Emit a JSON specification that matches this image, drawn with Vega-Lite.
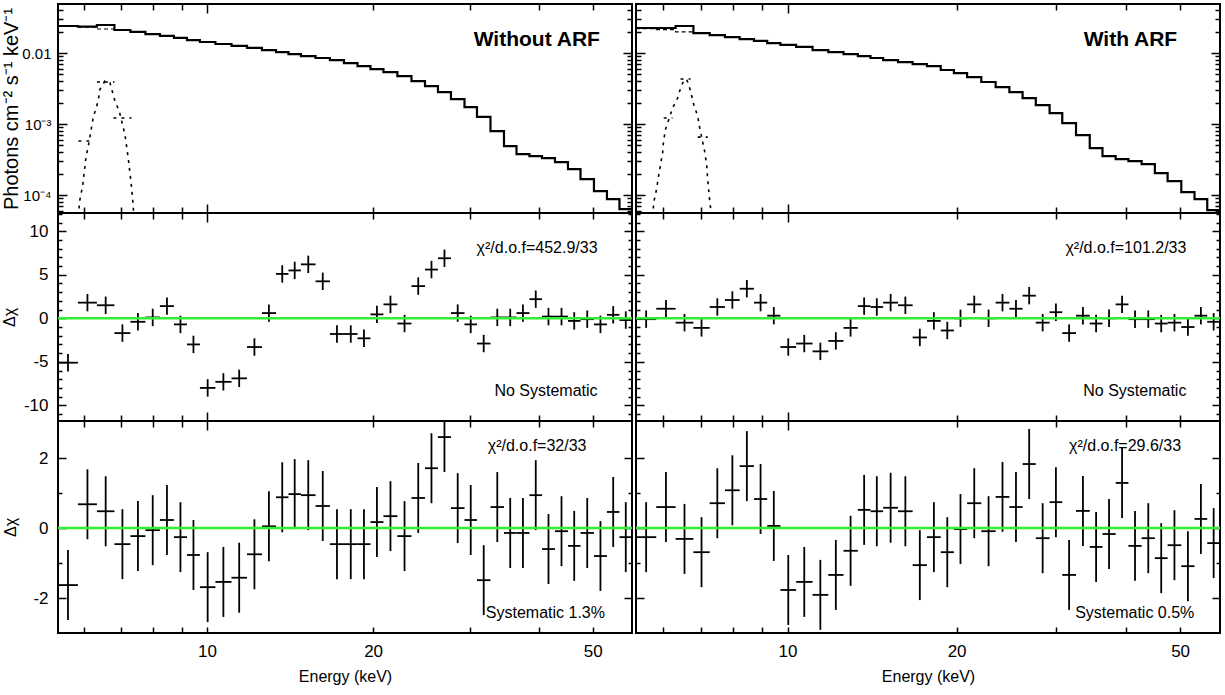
{
"$schema": "https://vega.github.io/schema/vega-lite/v6.json",
"background": "white",
"padding": {"left": 0, "top": 2, "right": 2, "bottom": 2},
"config": {
 "view": {"stroke": "black", "strokeWidth": 2},
 "axis": {"grid": false, "domain": false, "tickColor": "black", "tickWidth": 1.5, "labelColor": "black", "titleColor": "black", "labelFont": "Liberation Sans", "titleFont": "Liberation Sans", "labelFontSize": 17, "titleFontSize": 16, "titleFontWeight": "normal"},
 "text": {"font": "Liberation Sans", "fontSize": 16, "color": "black"}
},
"datasets": {
 "bins": [
  {"lo":5.373,"hi":5.838,"c":5.601,"rL1":-5.1,"rR1":-0.1,"rL2":-1.63,"rR2":-0.26,"err":1},
  {"lo":5.838,"hi":6.320,"c":6.075,"rL1":1.8,"rR1":1.1,"rL2":0.68,"rR2":0.6,"err":1},
  {"lo":6.320,"hi":6.799,"c":6.555,"rL1":1.5,"rR1":-0.5,"rL2":0.48,"rR2":-0.31,"err":1},
  {"lo":6.799,"hi":7.267,"c":7.029,"rL1":-1.7,"rR1":-1.1,"rL2":-0.46,"rR2":-0.69,"err":1},
  {"lo":7.267,"hi":7.737,"c":7.499,"rL1":-0.4,"rR1":1.3,"rL2":-0.23,"rR2":0.71,"err":1},
  {"lo":7.737,"hi":8.218,"c":7.976,"rL1":0.1,"rR1":2.1,"rL2":-0.06,"rR2":1.08,"err":1},
  {"lo":8.218,"hi":8.714,"c":8.464,"rL1":1.4,"rR1":3.4,"rL2":0.23,"rR2":1.77,"err":1},
  {"lo":8.714,"hi":9.201,"c":8.954,"rL1":-0.7,"rR1":1.8,"rL2":-0.26,"rR2":0.83,"err":1},
  {"lo":9.201,"hi":9.712,"c":9.453,"rL1":-3.0,"rR1":0.3,"rL2":-0.77,"rR2":0.06,"err":1},
  {"lo":9.712,"hi":10.36,"c":10.03,"rL1":-8.0,"rR1":-3.3,"rL2":-1.69,"rR2":-1.77,"err":1},
  {"lo":10.36,"hi":11.08,"c":10.71,"rL1":-7.3,"rR1":-2.9,"rL2":-1.54,"rR2":-1.54,"err":1},
  {"lo":11.08,"hi":11.82,"c":11.44,"rL1":-6.9,"rR1":-3.8,"rL2":-1.42,"rR2":-1.91,"err":1},
  {"lo":11.82,"hi":12.58,"c":12.19,"rL1":-3.3,"rR1":-2.6,"rL2":-0.75,"rR2":-1.34,"err":1},
  {"lo":12.58,"hi":13.34,"c":12.95,"rL1":0.6,"rR1":-1.1,"rL2":0.05,"rR2":-0.65,"err":1},
  {"lo":13.34,"hi":14.05,"c":13.69,"rL1":5.1,"rR1":1.4,"rL2":0.88,"rR2":0.52,"err":1},
  {"lo":14.05,"hi":14.80,"c":14.42,"rL1":5.5,"rR1":1.3,"rL2":0.97,"rR2":0.48,"err":1},
  {"lo":14.80,"hi":15.73,"c":15.26,"rL1":6.2,"rR1":1.8,"rL2":0.94,"rR2":0.58,"err":1},
  {"lo":15.73,"hi":16.70,"c":16.21,"rL1":4.25,"rR1":1.5,"rL2":0.63,"rR2":0.48,"err":1},
  {"lo":16.70,"hi":17.71,"c":17.20,"rL1":-1.8,"rR1":-2.2,"rL2":-0.46,"rR2":-1.06,"err":1},
  {"lo":17.71,"hi":18.74,"c":18.22,"rL1":-1.8,"rR1":-0.3,"rL2":-0.46,"rR2":-0.26,"err":1},
  {"lo":18.74,"hi":19.78,"c":19.25,"rL1":-2.3,"rR1":-1.4,"rL2":-0.46,"rR2":-0.69,"err":1},
  {"lo":19.78,"hi":20.88,"c":20.32,"rL1":0.45,"rR1":0.0,"rL2":0.17,"rR2":-0.03,"err":1},
  {"lo":20.88,"hi":22.13,"c":21.50,"rL1":1.6,"rR1":1.6,"rL2":0.34,"rR2":0.71,"err":1},
  {"lo":22.13,"hi":23.47,"c":22.80,"rL1":-0.6,"rR1":0.0,"rL2":-0.23,"rR2":-0.09,"err":1},
  {"lo":23.47,"hi":24.83,"c":24.14,"rL1":3.7,"rR1":1.8,"rL2":0.86,"rR2":0.89,"err":1},
  {"lo":24.83,"hi":26.21,"c":25.51,"rL1":5.6,"rR1":1.1,"rL2":1.71,"rR2":0.6,"err":1},
  {"lo":26.21,"hi":27.67,"c":26.93,"rL1":6.9,"rR1":2.6,"rL2":2.6,"rR2":1.83,"err":1},
  {"lo":27.67,"hi":29.28,"c":28.46,"rL1":0.6,"rR1":-0.5,"rL2":0.57,"rR2":-0.29,"err":1},
  {"lo":29.28,"hi":30.84,"c":30.05,"rL1":-0.7,"rR1":0.7,"rL2":0.23,"rR2":0.74,"err":1},
  {"lo":30.84,"hi":32.63,"c":31.72,"rL1":-2.9,"rR1":-1.7,"rL2":-1.49,"rR2":-1.34,"err":1},
  {"lo":32.63,"hi":34.52,"c":33.57,"rL1":0.1,"rR1":0.3,"rL2":0.6,"rR2":0.49,"err":1},
  {"lo":34.52,"hi":36.37,"c":35.43,"rL1":0.1,"rR1":-0.6,"rL2":-0.14,"rR2":-0.54,"err":1},
  {"lo":36.37,"hi":38.39,"c":37.36,"rL1":0.6,"rR1":0.0,"rL2":-0.14,"rR2":-0.17,"err":1},
  {"lo":38.39,"hi":40.45,"c":39.41,"rL1":2.2,"rR1":1.6,"rL2":0.94,"rR2":1.29,"err":1},
  {"lo":40.45,"hi":42.70,"c":41.56,"rL1":0.2,"rR1":-0.1,"rL2":-0.6,"rR2":-0.51,"err":1},
  {"lo":42.70,"hi":45.08,"c":43.88,"rL1":0.2,"rR1":-0.1,"rL2":-0.09,"rR2":-0.29,"err":1},
  {"lo":45.08,"hi":47.50,"c":46.27,"rL1":-0.3,"rR1":-0.6,"rL2":-0.51,"rR2":-0.86,"err":1},
  {"lo":47.50,"hi":50.24,"c":48.85,"rL1":-0.1,"rR1":-0.5,"rL2":-0.14,"rR2":-0.49,"err":1},
  {"lo":50.24,"hi":53.04,"c":51.62,"rL1":-0.7,"rR1":-1.0,"rL2":-0.8,"rR2":-1.09,"err":1},
  {"lo":53.04,"hi":55.88,"c":54.44,"rL1":0.4,"rR1":0.3,"rL2":0.46,"rR2":0.26,"err":1},
  {"lo":55.88,"hi":58.88,"c":57.37,"rL1":-0.2,"rR1":-0.4,"rL2":-0.26,"rR2":-0.43,"err":1}
 ],
 "steps": [
  {"e":5.373,"fL":0.0240,"fR":0.0225},{"e":5.838,"fL":0.0236,"fR":0.0225},{"e":6.320,"fL":0.0248,"fR":0.0240},
  {"e":6.799,"fL":0.0211,"fR":0.0191},{"e":7.267,"fL":0.0198,"fR":0.0179},{"e":7.737,"fL":0.0185,"fR":0.0168},
  {"e":8.218,"fL":0.0174,"fR":0.0157},{"e":8.714,"fL":0.0163,"fR":0.0148},{"e":9.201,"fL":0.0152,"fR":0.0138},
  {"e":9.712,"fL":0.0143,"fR":0.0130},{"e":10.36,"fL":0.0134,"fR":0.0122},{"e":11.08,"fL":0.0126,"fR":0.0110},
  {"e":11.82,"fL":0.0118,"fR":0.0103},{"e":12.58,"fL":0.0110,"fR":0.00968},{"e":13.34,"fL":0.0103,"fR":0.00907},
  {"e":14.05,"fL":0.00968,"fR":0.00851},{"e":14.80,"fL":0.00907,"fR":0.00797},{"e":15.73,"fL":0.00851,"fR":0.00747},
  {"e":16.70,"fL":0.00797,"fR":0.00700},{"e":17.71,"fL":0.00723,"fR":0.00656},{"e":18.74,"fL":0.00656,"fR":0.00577},
  {"e":19.78,"fL":0.00595,"fR":0.00523},{"e":20.88,"fL":0.00540,"fR":0.00459},{"e":22.13,"fL":0.00474,"fR":0.00391},
  {"e":23.47,"fL":0.00403,"fR":0.00332},{"e":24.83,"fL":0.00343,"fR":0.00282},{"e":26.21,"fL":0.00282,"fR":0.00232},
  {"e":27.67,"fL":0.00225,"fR":0.00185},{"e":29.28,"fL":0.00173,"fR":0.00143},{"e":30.84,"fL":0.00126,"fR":0.00103},
  {"e":32.63,"fL":0.000796,"fR":0.000700},{"e":34.52,"fL":0.000490,"fR":0.000459},{"e":36.37,"fL":0.000378,"fR":0.000354},
  {"e":38.39,"fL":0.000354,"fR":0.000321},{"e":40.45,"fL":0.000332,"fR":0.000301},{"e":42.70,"fL":0.000292,"fR":0.000273},
  {"e":45.08,"fL":0.000232,"fR":0.000204},{"e":47.50,"fL":0.000168,"fR":0.000157},{"e":50.24,"fL":0.000114,"fR":0.000110},
  {"e":53.04,"fL":0.0000879,"fR":0.0000879},{"e":55.88,"fL":0.0000635,"fR":0.0000615},{"e":58.88,"fL":0.0000635,"fR":0.0000615}
 ],
 "cont": [
  {"e":5.373,"cL":0.0240,"cR":0.0221},{"e":5.838,"cL":0.0232,"cR":0.0214},{"e":6.320,"cL":0.0218,"cR":0.0198},
  {"e":6.799,"cL":0.0211,"cR":0.0191},{"e":7.267,"cL":0.0198,"cR":0.0179}
 ],
 "gaussL": [
  {"e":5.86,"f":0.00005},{"e":5.871,"f":0.000078},{"e":5.954,"f":0.000134},{"e":6.037,"f":0.000335},{"e":6.120,"f":0.000577},
  {"e":6.223,"f":0.00123},{"e":6.353,"f":0.00211},{"e":6.400,"f":0.00308},{"e":6.535,"f":0.00404},{"e":6.673,"f":0.00382},
  {"e":6.813,"f":0.00211},{"e":6.937,"f":0.00152},{"e":7.103,"f":0.000716},{"e":7.201,"f":0.000335},{"e":7.304,"f":0.000127},
  {"e":7.353,"f":0.00007},{"e":7.37,"f":0.00005}
 ],
 "gaussR": [
  {"e":5.76,"f":0.00005},{"e":5.775,"f":0.0000771},{"e":5.846,"f":0.000122},{"e":5.894,"f":0.000185},{"e":5.943,"f":0.000273},
  {"e":5.992,"f":0.000391},{"e":6.016,"f":0.000577},{"e":6.066,"f":0.000851},{"e":6.242,"f":0.00168},{"e":6.372,"f":0.00232},
  {"e":6.451,"f":0.00321},{"e":6.504,"f":0.00378},{"e":6.612,"f":0.0043},{"e":6.721,"f":0.00292},{"e":6.804,"f":0.00191},
  {"e":6.917,"f":0.0013},{"e":6.973,"f":0.000908},{"e":7.117,"f":0.000417},{"e":7.177,"f":0.000273},{"e":7.206,"f":0.000173},
  {"e":7.264,"f":0.0000879},{"e":7.295,"f":0.0000656},{"e":7.31,"f":0.00005}
 ],
 "capsL": [{"lo":5.85,"hi":6.12,"f":0.000577},{"lo":6.32,"hi":6.80,"f":0.00391},{"lo":6.77,"hi":7.30,"f":0.00122}],
 "capsR": [{"lo":6.02,"hi":6.24,"f":0.00122},{"lo":6.45,"hi":6.72,"f":0.0043},{"lo":6.92,"hi":7.21,"f":0.000656}]
},
"columns": 2,
"spacing": {"row": 0, "column": 4},
"bounds": "flush",
"concat": [
 {
  "width": 574, "height": 209,
  "layer": [
   {"data": {"name": "cont"}, "mark": {"type": "line", "interpolate": "step-after", "color": "black", "strokeWidth": 1.2, "strokeDash": [4, 3], "clip": true},
    "encoding": {"x": {"field": "e", "type": "quantitative", "scale": {"type": "log", "domain": [5.373, 58.88], "nice": false}, "axis": null},
                 "y": {"field": "cL", "type": "quantitative", "scale": {"type": "log", "domain": [0.000056, 0.049], "nice": false}, "axis": null}}},
   {"data": {"name": "gaussL"}, "mark": {"type": "line", "color": "black", "strokeWidth": 1.6, "strokeDash": [3, 5], "clip": true},
    "encoding": {"x": {"field": "e", "type": "quantitative", "axis": null}, "y": {"field": "f", "type": "quantitative", "axis": null}}},
   {"data": {"name": "capsL"}, "mark": {"type": "rule", "color": "black", "strokeWidth": 1.6, "strokeDash": [3, 5]},
    "encoding": {"x": {"field": "lo", "type": "quantitative", "axis": null}, "x2": {"field": "hi"}, "y": {"field": "f", "type": "quantitative", "axis": null}}},
   {"data": {"name": "steps"}, "mark": {"type": "line", "interpolate": "step-after", "color": "black", "strokeWidth": 2.2, "clip": true},
    "encoding": {"x": {"field": "e", "type": "quantitative", "axis": {"orient": "bottom", "values": [6,7,8,9,10,20,30,40,50], "labels": false, "title": null, "tickSize": {"condition": {"test": "datum.value == 10", "value": -9}, "value": -6}}},
                 "y": {"field": "fL", "type": "quantitative", "axis": {"orient": "left", "values": [0.00006,0.00007,0.00008,0.00009,0.0001,0.0002,0.0003,0.0004,0.0005,0.0006,0.0007,0.0008,0.0009,0.001,0.002,0.003,0.004,0.005,0.006,0.007,0.008,0.009,0.01,0.02,0.03,0.04],
                   "labelExpr": "datum.value == 0.01 ? '0.01' : datum.value == 0.001 ? '10⁻³' : datum.value == 0.0001 ? '10⁻⁴' : ''",
                   "tickSize": {"condition": {"test": "datum.value == 0.01 || datum.value == 0.001 || datum.value == 0.0001", "value": -9}, "value": -5},
                   "labelPadding": 16, "labelFont": "Liberation Sans", "labelFontSize": 15,
                   "title": "Photons cm⁻² s⁻¹ keV⁻¹", "titleFont": "Liberation Sans", "titleFontSize": 20, "titlePadding": 0}}}},
   {"data": {"name": "steps"}, "mark": {"type": "point", "opacity": 0},
    "encoding": {"x": {"field": "e", "type": "quantitative", "axis": {"orient": "top", "values": [6,7,8,9,10,20,30,40,50], "labels": false, "title": null, "tickSize": {"condition": {"test": "datum.value == 10", "value": -9}, "value": -6}}},
                 "y": {"field": "fL", "type": "quantitative", "axis": {"orient": "right", "values": [0.00006,0.00007,0.00008,0.00009,0.0001,0.0002,0.0003,0.0004,0.0005,0.0006,0.0007,0.0008,0.0009,0.001,0.002,0.003,0.004,0.005,0.006,0.007,0.008,0.009,0.01,0.02,0.03,0.04], "labels": false, "title": null,
                   "tickSize": {"condition": {"test": "datum.value == 0.01 || datum.value == 0.001 || datum.value == 0.0001", "value": -9}, "value": -5}}}}},
   {"data": {"values": [{"t": "Without ARF"}]}, "mark": {"type": "text", "align": "right", "baseline": "alphabetic", "font": "Liberation Sans", "fontWeight": "bold", "fontSize": 21},
    "encoding": {"x": {"datum": 51.5, "type": "quantitative", "axis": null}, "y": {"datum": 0.01256, "type": "quantitative", "axis": null}, "text": {"field": "t"}}}
  ],
  "resolve": {"axis": {"x": "independent", "y": "independent"}}
 },
 {
  "width": 584, "height": 209,
  "layer": [
   {"data": {"name": "cont"}, "mark": {"type": "line", "interpolate": "step-after", "color": "black", "strokeWidth": 1.2, "strokeDash": [4, 3], "clip": true},
    "encoding": {"x": {"field": "e", "type": "quantitative", "scale": {"type": "log", "domain": [5.373, 58.88], "nice": false}, "axis": null},
                 "y": {"field": "cR", "type": "quantitative", "scale": {"type": "log", "domain": [0.000056, 0.049], "nice": false}, "axis": null}}},
   {"data": {"name": "gaussR"}, "mark": {"type": "line", "color": "black", "strokeWidth": 1.6, "strokeDash": [3, 5], "clip": true},
    "encoding": {"x": {"field": "e", "type": "quantitative", "axis": null}, "y": {"field": "f", "type": "quantitative", "axis": null}}},
   {"data": {"name": "capsR"}, "mark": {"type": "rule", "color": "black", "strokeWidth": 1.6, "strokeDash": [3, 5]},
    "encoding": {"x": {"field": "lo", "type": "quantitative", "axis": null}, "x2": {"field": "hi"}, "y": {"field": "f", "type": "quantitative", "axis": null}}},
   {"data": {"name": "steps"}, "mark": {"type": "line", "interpolate": "step-after", "color": "black", "strokeWidth": 2.2, "clip": true},
    "encoding": {"x": {"field": "e", "type": "quantitative", "axis": {"orient": "bottom", "values": [6,7,8,9,10,20,30,40,50], "labels": false, "title": null, "tickSize": {"condition": {"test": "datum.value == 10", "value": -9}, "value": -6}}},
                 "y": {"field": "fR", "type": "quantitative", "axis": {"orient": "left", "values": [0.00006,0.00007,0.00008,0.00009,0.0001,0.0002,0.0003,0.0004,0.0005,0.0006,0.0007,0.0008,0.0009,0.001,0.002,0.003,0.004,0.005,0.006,0.007,0.008,0.009,0.01,0.02,0.03,0.04], "labels": false, "title": null,
                   "tickSize": {"condition": {"test": "datum.value == 0.01 || datum.value == 0.001 || datum.value == 0.0001", "value": -9}, "value": -5}}}}},
   {"data": {"name": "steps"}, "mark": {"type": "point", "opacity": 0},
    "encoding": {"x": {"field": "e", "type": "quantitative", "axis": {"orient": "top", "values": [6,7,8,9,10,20,30,40,50], "labels": false, "title": null, "tickSize": {"condition": {"test": "datum.value == 10", "value": -9}, "value": -6}}},
                 "y": {"field": "fR", "type": "quantitative", "axis": {"orient": "right", "values": [0.00006,0.00007,0.00008,0.00009,0.0001,0.0002,0.0003,0.0004,0.0005,0.0006,0.0007,0.0008,0.0009,0.001,0.002,0.003,0.004,0.005,0.006,0.007,0.008,0.009,0.01,0.02,0.03,0.04], "labels": false, "title": null,
                   "tickSize": {"condition": {"test": "datum.value == 0.01 || datum.value == 0.001 || datum.value == 0.0001", "value": -9}, "value": -5}}}}},
   {"data": {"values": [{"t": "With ARF"}]}, "mark": {"type": "text", "align": "right", "baseline": "alphabetic", "font": "Liberation Sans", "fontWeight": "bold", "fontSize": 21},
    "encoding": {"x": {"datum": 49.4, "type": "quantitative", "axis": null}, "y": {"datum": 0.01256, "type": "quantitative", "axis": null}, "text": {"field": "t"}}}
  ],
  "resolve": {"axis": {"x": "independent", "y": "independent"}}
 },
 {
  "width": 574, "height": 208,
  "layer": [
   {"data": {"name": "bins"}, "mark": {"type": "rule", "color": "black", "strokeWidth": 1.8, "clip": true},
    "encoding": {"x": {"field": "lo", "type": "quantitative", "scale": {"type": "log", "domain": [5.373, 58.88], "nice": false}, "axis": {"orient": "bottom", "values": [6,7,8,9,10,20,30,40,50], "labels": false, "title": null, "tickSize": {"condition": {"test": "datum.value == 10", "value": -9}, "value": -6}}},
                 "x2": {"field": "hi"},
                 "y": {"field": "rL1", "type": "quantitative", "scale": {"domain": [-11.8, 12.1], "nice": false, "zero": false},
                   "axis": {"orient": "left", "values": [-11,-10,-9,-8,-7,-6,-5,-4,-3,-2,-1,0,1,2,3,4,5,6,7,8,9,10,11,12], "labelExpr": "datum.value % 5 == 0 ? toString(datum.value) : ''",
                     "tickSize": {"condition": {"test": "datum.value % 5 == 0", "value": -8}, "value": -4}, "labelPadding": 18, "title": "Δχ", "titlePadding": 6}}}},
   {"data": {"name": "bins"}, "mark": {"type": "errorbar", "color": "black", "thickness": 1.8},
    "encoding": {"x": {"field": "c", "type": "quantitative", "axis": null}, "y": {"field": "rL1", "type": "quantitative", "axis": null}, "yError": {"field": "err"}}},
   {"data": {"values": [{"z": 0}]}, "mark": {"type": "rule", "color": "#33ee33", "strokeWidth": 2.5},
    "encoding": {"y": {"field": "z", "type": "quantitative", "axis": null}}},
   {"data": {"name": "bins"}, "mark": {"type": "point", "opacity": 0},
    "encoding": {"x": {"field": "c", "type": "quantitative", "axis": {"orient": "top", "values": [6,7,8,9,10,20,30,40,50], "labels": false, "title": null, "tickSize": {"condition": {"test": "datum.value == 10", "value": -9}, "value": -6}}},
                 "y": {"field": "rL1", "type": "quantitative", "axis": {"orient": "right", "values": [-11,-10,-9,-8,-7,-6,-5,-4,-3,-2,-1,0,1,2,3,4,5,6,7,8,9,10,11,12], "labels": false, "title": null, "tickSize": {"condition": {"test": "datum.value % 5 == 0", "value": -8}, "value": -4}}}}},
   {"data": {"values": [{"t": "χ²/d.o.f=452.9/33"}]}, "mark": {"type": "text", "align": "right", "baseline": "alphabetic"},
    "encoding": {"x": {"datum": 51.0, "type": "quantitative", "axis": null}, "y": {"datum": 7.45, "type": "quantitative", "axis": null}, "text": {"field": "t"}}},
   {"data": {"values": [{"t": "No Systematic"}]}, "mark": {"type": "text", "align": "right", "baseline": "alphabetic"},
    "encoding": {"x": {"datum": 51.0, "type": "quantitative", "axis": null}, "y": {"datum": -8.97, "type": "quantitative", "axis": null}, "text": {"field": "t"}}}
  ],
  "resolve": {"axis": {"x": "independent", "y": "independent"}}
 },
 {
  "width": 584, "height": 208,
  "layer": [
   {"data": {"name": "bins"}, "mark": {"type": "rule", "color": "black", "strokeWidth": 1.8, "clip": true},
    "encoding": {"x": {"field": "lo", "type": "quantitative", "scale": {"type": "log", "domain": [5.373, 58.88], "nice": false}, "axis": {"orient": "bottom", "values": [6,7,8,9,10,20,30,40,50], "labels": false, "title": null, "tickSize": {"condition": {"test": "datum.value == 10", "value": -9}, "value": -6}}},
                 "x2": {"field": "hi"},
                 "y": {"field": "rR1", "type": "quantitative", "scale": {"domain": [-11.8, 12.1], "nice": false, "zero": false},
                   "axis": {"orient": "left", "values": [-11,-10,-9,-8,-7,-6,-5,-4,-3,-2,-1,0,1,2,3,4,5,6,7,8,9,10,11,12], "labels": false, "title": null,
                     "tickSize": {"condition": {"test": "datum.value % 5 == 0", "value": -8}, "value": -4}}}}},
   {"data": {"name": "bins"}, "mark": {"type": "errorbar", "color": "black", "thickness": 1.8},
    "encoding": {"x": {"field": "c", "type": "quantitative", "axis": null}, "y": {"field": "rR1", "type": "quantitative", "axis": null}, "yError": {"field": "err"}}},
   {"data": {"values": [{"z": 0}]}, "mark": {"type": "rule", "color": "#33ee33", "strokeWidth": 2.5},
    "encoding": {"y": {"field": "z", "type": "quantitative", "axis": null}}},
   {"data": {"name": "bins"}, "mark": {"type": "point", "opacity": 0},
    "encoding": {"x": {"field": "c", "type": "quantitative", "axis": {"orient": "top", "values": [6,7,8,9,10,20,30,40,50], "labels": false, "title": null, "tickSize": {"condition": {"test": "datum.value == 10", "value": -9}, "value": -6}}},
                 "y": {"field": "rR1", "type": "quantitative", "axis": {"orient": "right", "values": [-11,-10,-9,-8,-7,-6,-5,-4,-3,-2,-1,0,1,2,3,4,5,6,7,8,9,10,11,12], "labels": false, "title": null, "tickSize": {"condition": {"test": "datum.value % 5 == 0", "value": -8}, "value": -4}}}}},
   {"data": {"values": [{"t": "χ²/d.o.f=101.2/33"}]}, "mark": {"type": "text", "align": "right", "baseline": "alphabetic"},
    "encoding": {"x": {"datum": 51.3, "type": "quantitative", "axis": null}, "y": {"datum": 7.45, "type": "quantitative", "axis": null}, "text": {"field": "t"}}},
   {"data": {"values": [{"t": "No Systematic"}]}, "mark": {"type": "text", "align": "right", "baseline": "alphabetic"},
    "encoding": {"x": {"datum": 51.3, "type": "quantitative", "axis": null}, "y": {"datum": -8.97, "type": "quantitative", "axis": null}, "text": {"field": "t"}}}
  ],
  "resolve": {"axis": {"x": "independent", "y": "independent"}}
 },
 {
  "width": 574, "height": 212,
  "layer": [
   {"data": {"name": "bins"}, "mark": {"type": "rule", "color": "black", "strokeWidth": 1.8, "clip": true},
    "encoding": {"x": {"field": "lo", "type": "quantitative", "scale": {"type": "log", "domain": [5.373, 58.88], "nice": false},
                   "axis": {"orient": "bottom", "values": [6,7,8,9,10,20,30,40,50], "labelExpr": "datum.value == 10 ? '10' : datum.value == 20 ? '20' : datum.value == 50 ? '50' : ''", "labelPadding": 16, "tickSize": -6, "title": "Energy (keV)", "titlePadding": 9}},
                 "x2": {"field": "hi"},
                 "y": {"field": "rL2", "type": "quantitative", "scale": {"domain": [-3.0, 3.06], "nice": false, "zero": false},
                   "axis": {"orient": "left", "values": [-2,-1,0,1,2], "labelExpr": "datum.value % 2 == 0 ? toString(datum.value) : ''",
                     "tickSize": {"condition": {"test": "datum.value % 2 == 0", "value": -8}, "value": -4}, "labelPadding": 18, "title": "Δχ", "titlePadding": 14}}}},
   {"data": {"name": "bins"}, "mark": {"type": "errorbar", "color": "black", "thickness": 1.8, "clip": true},
    "encoding": {"x": {"field": "c", "type": "quantitative", "axis": null}, "y": {"field": "rL2", "type": "quantitative", "axis": null}, "yError": {"field": "err"}}},
   {"data": {"values": [{"z": 0}]}, "mark": {"type": "rule", "color": "#33ee33", "strokeWidth": 2.5},
    "encoding": {"y": {"field": "z", "type": "quantitative", "axis": null}}},
   {"data": {"name": "bins"}, "mark": {"type": "point", "opacity": 0},
    "encoding": {"x": {"field": "c", "type": "quantitative", "axis": {"orient": "top", "values": [6,7,8,9,10,20,30,40,50], "labels": false, "title": null, "tickSize": {"condition": {"test": "datum.value == 10", "value": -9}, "value": -6}}},
                 "y": {"field": "rL2", "type": "quantitative", "axis": {"orient": "right", "values": [-2,-1,0,1,2], "labels": false, "title": null, "tickSize": {"condition": {"test": "datum.value % 2 == 0", "value": -8}, "value": -4}}}}},
   {"data": {"values": [{"t": "χ²/d.o.f=32/33"}]}, "mark": {"type": "text", "align": "right", "baseline": "alphabetic"},
    "encoding": {"x": {"datum": 48.7, "type": "quantitative", "axis": null}, "y": {"datum": 2.2, "type": "quantitative", "axis": null}, "text": {"field": "t"}}},
   {"data": {"values": [{"t": "Systematic 1.3%"}]}, "mark": {"type": "text", "align": "right", "baseline": "alphabetic"},
    "encoding": {"x": {"datum": 52.6, "type": "quantitative", "axis": null}, "y": {"datum": -2.57, "type": "quantitative", "axis": null}, "text": {"field": "t"}}}
  ],
  "resolve": {"axis": {"x": "independent", "y": "independent"}}
 },
 {
  "width": 584, "height": 212,
  "layer": [
   {"data": {"name": "bins"}, "mark": {"type": "rule", "color": "black", "strokeWidth": 1.8, "clip": true},
    "encoding": {"x": {"field": "lo", "type": "quantitative", "scale": {"type": "log", "domain": [5.373, 58.88], "nice": false},
                   "axis": {"orient": "bottom", "values": [6,7,8,9,10,20,30,40,50], "labelExpr": "datum.value == 10 ? '10' : datum.value == 20 ? '20' : datum.value == 50 ? '50' : ''", "labelPadding": 16, "tickSize": -6, "title": "Energy (keV)", "titlePadding": 9}},
                 "x2": {"field": "hi"},
                 "y": {"field": "rR2", "type": "quantitative", "scale": {"domain": [-3.0, 3.06], "nice": false, "zero": false},
                   "axis": {"orient": "left", "values": [-2,-1,0,1,2], "labels": false, "title": null,
                     "tickSize": {"condition": {"test": "datum.value % 2 == 0", "value": -8}, "value": -4}}}}},
   {"data": {"name": "bins"}, "mark": {"type": "errorbar", "color": "black", "thickness": 1.8, "clip": true},
    "encoding": {"x": {"field": "c", "type": "quantitative", "axis": null}, "y": {"field": "rR2", "type": "quantitative", "axis": null}, "yError": {"field": "err"}}},
   {"data": {"values": [{"z": 0}]}, "mark": {"type": "rule", "color": "#33ee33", "strokeWidth": 2.5},
    "encoding": {"y": {"field": "z", "type": "quantitative", "axis": null}}},
   {"data": {"name": "bins"}, "mark": {"type": "point", "opacity": 0},
    "encoding": {"x": {"field": "c", "type": "quantitative", "axis": {"orient": "top", "values": [6,7,8,9,10,20,30,40,50], "labels": false, "title": null, "tickSize": {"condition": {"test": "datum.value == 10", "value": -9}, "value": -6}}},
                 "y": {"field": "rR2", "type": "quantitative", "axis": {"orient": "right", "values": [-2,-1,0,1,2], "labels": false, "title": null, "tickSize": {"condition": {"test": "datum.value % 2 == 0", "value": -8}, "value": -4}}}}},
   {"data": {"values": [{"t": "χ²/d.o.f=29.6/33"}]}, "mark": {"type": "text", "align": "right", "baseline": "alphabetic"},
    "encoding": {"x": {"datum": 50.2, "type": "quantitative", "axis": null}, "y": {"datum": 2.2, "type": "quantitative", "axis": null}, "text": {"field": "t"}}},
   {"data": {"values": [{"t": "Systematic 0.5%"}]}, "mark": {"type": "text", "align": "right", "baseline": "alphabetic"},
    "encoding": {"x": {"datum": 53.0, "type": "quantitative", "axis": null}, "y": {"datum": -2.57, "type": "quantitative", "axis": null}, "text": {"field": "t"}}}
  ],
  "resolve": {"axis": {"x": "independent", "y": "independent"}}
 }
]
}
